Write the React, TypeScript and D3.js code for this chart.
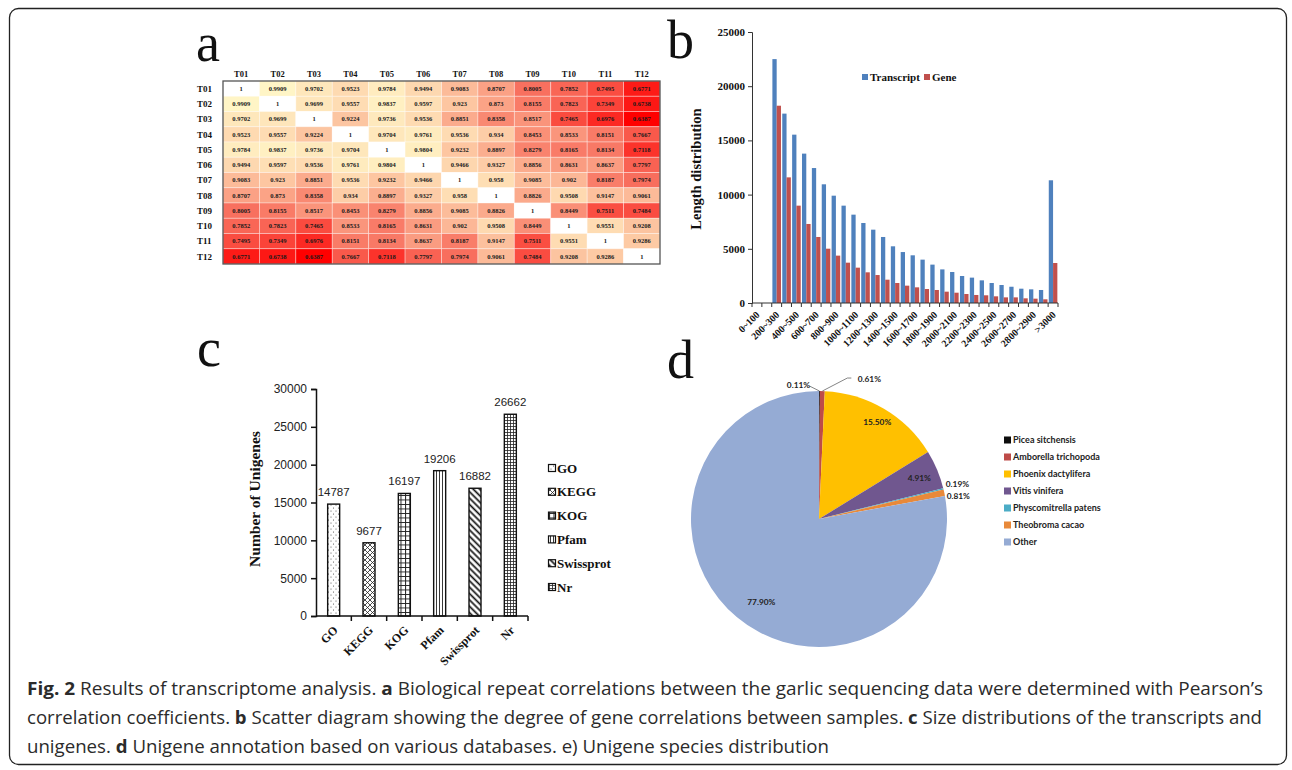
import * as d3 from 'd3';
import { useEffect, useRef } from 'react';

// panel a: Pearson correlation matrix
const samples = ['T01', 'T02', 'T03', 'T04', 'T05', 'T06', 'T07', 'T08', 'T09', 'T10', 'T11', 'T12'];
const corrRows = [
  [1, 0.9909, 0.9702, 0.9523, 0.9784, 0.9494, 0.9083, 0.8707, 0.8005, 0.7852, 0.7495, 0.6771],
  [0.9909, 1, 0.9699, 0.9557, 0.9837, 0.9597, 0.923, 0.873, 0.8155, 0.7823, 0.7349, 0.6738],
  [0.9702, 0.9699, 1, 0.9224, 0.9736, 0.9536, 0.8851, 0.8358, 0.8517, 0.7465, 0.6976, 0.6387],
  [0.9523, 0.9557, 0.9224, 1, 0.9704, 0.9761, 0.9536, 0.934, 0.8453, 0.8533, 0.8151, 0.7667],
  [0.9784, 0.9837, 0.9736, 0.9704, 1, 0.9804, 0.9232, 0.8897, 0.8279, 0.8165, 0.8134, 0.7118],
  [0.9494, 0.9597, 0.9536, 0.9761, 0.9804, 1, 0.9466, 0.9327, 0.8856, 0.8631, 0.8637, 0.7797],
  [0.9083, 0.923, 0.8851, 0.9536, 0.9232, 0.9466, 1, 0.958, 0.9085, 0.902, 0.8187, 0.7974],
  [0.8707, 0.873, 0.8358, 0.934, 0.8897, 0.9327, 0.958, 1, 0.8826, 0.9508, 0.9147, 0.9061],
  [0.8005, 0.8155, 0.8517, 0.8453, 0.8279, 0.8856, 0.9085, 0.8826, 1, 0.8449, 0.7511, 0.7484],
  [0.7852, 0.7823, 0.7465, 0.8533, 0.8165, 0.8631, 0.902, 0.9508, 0.8449, 1, 0.9551, 0.9208],
  [0.7495, 0.7349, 0.6976, 0.8151, 0.8134, 0.8637, 0.8187, 0.9147, 0.7511, 0.9551, 1, 0.9286],
  [0.6771, 0.6738, 0.6387, 0.7667, 0.7118, 0.7797, 0.7974, 0.9061, 0.7484, 0.9208, 0.9286, 1],
];

// panel b: length distribution
const lengthBins = [
  '0~100', '100~200', '200~300', '300~400', '400~500', '500~600', '600~700', '700~800',
  '800~900', '900~1000', '1000~1100', '1100~1200', '1200~1300', '1300~1400', '1400~1500',
  '1500~1600', '1600~1700', '1700~1800', '1800~1900', '1900~2000', '2000~2100', '2100~2200',
  '2200~2300', '2300~2400', '2400~2500', '2500~2600', '2600~2700', '2700~2800', '2800~2900',
  '2900~3000', '>3000',
];
const transcriptCounts = [0, 0, 22500, 17470, 15530, 13780, 12450, 10950, 9900, 8980, 8150, 7380,
  6765, 6090, 5230, 4700, 4400, 4000, 3540, 3100, 2860, 2490, 2340, 2090, 1845, 1660, 1500, 1320,
  1260, 1200, 11320];
const geneCounts = [0, 0, 18200, 11590, 8980, 7290, 6090, 5010, 4370, 3720, 3260, 2830, 2580, 2150,
  1845, 1600, 1445, 1290, 1200, 1045, 950, 830, 740, 710, 615, 520, 520, 430, 400, 340, 3690];
const lengthTicks = [0, 5000, 10000, 15000, 20000, 25000];

// panel c: annotation databases
const dbNames = ['GO', 'KEGG', 'KOG', 'Pfam', 'Swissprot', 'Nr'];
const unigeneCounts = [14787, 9677, 16197, 19206, 16882, 26662];
const unigeneTicks = [0, 5000, 10000, 15000, 20000, 25000, 30000];

// panel d: species distribution
const speciesNames = ['Picea sitchensis', 'Amborella trichopoda', 'Phoenix dactylifera', 'Vitis vinifera',
  'Physcomitrella patens', 'Theobroma cacao', 'Other'];
const speciesPercent = [0.11, 0.61, 15.5, 4.91, 0.19, 0.81, 77.9];
const speciesLabels = ['0.11%', '0.61%', '15.50%', '4.91%', '0.19%', '0.81%', '77.90%'];

const SERIF = '"Liberation Serif", "Times New Roman", serif';
const SANS = '"Liberation Sans", Arial, sans-serif';

const App = () => {
  const svgRef = useRef<SVGSVGElement>(null);

  useEffect(() => {
    const svg = d3.select(svgRef.current);
    svg.selectAll('*').remove();

    svg.append('rect').attr('width', 1292).attr('height', 770).attr('fill', '#fff');
    // outer frame
    svg.append('rect')
      .attr('x', 9.5).attr('y', 8.5).attr('width', 1277).attr('height', 756).attr('rx', 9)
      .attr('fill', 'none').attr('stroke', '#222').attr('stroke-width', 1.3);

    // panel letters
    const letters = [['a', 196, 61], ['b', 667, 58], ['c', 197, 366], ['d', 667, 378]];
    letters.forEach(([t, x, y]) => {
      svg.append('text').attr('x', x).attr('y', y).text(t as string)
        .attr('font-family', SERIF).attr('font-size', 54).attr('fill', '#111');
    });

    const defs = svg.append('defs');

    // ---------------- panel a ----------------
    const hx = d3.scaleBand().domain(samples).range([223, 660]);
    const hy = d3.scaleBand().domain(samples).range([81, 264]);
    const heatColor = d3.scaleLinear<string>()
      .domain([0.6387, 0.8, 0.9909])
      .range(['#ff0000', '#f8705f', '#fff5c6']);

    const ga = svg.append('g');
    corrRows.forEach((row, ri) => {
      row.forEach((v, ci) => {
        ga.append('rect')
          .attr('x', hx(samples[ci])!).attr('y', hy(samples[ri])!)
          .attr('width', hx.bandwidth()).attr('height', hy.bandwidth())
          .attr('fill', v === 1 ? '#ffffff' : heatColor(v))
          .attr('stroke', '#ffffff').attr('stroke-opacity', 0.45).attr('stroke-width', 0.8);
        ga.append('text')
          .attr('x', hx(samples[ci])! + hx.bandwidth() / 2)
          .attr('y', hy(samples[ri])! + hy.bandwidth() / 2)
          .attr('dy', '0.35em').attr('text-anchor', 'middle')
          .attr('font-family', SERIF).attr('font-weight', 'bold').attr('font-size', 6.5)
          .attr('fill', '#1a1a1a')
          .text(String(v));
      });
    });
    ga.append('rect').attr('x', 223).attr('y', 81).attr('width', 437).attr('height', 183)
      .attr('fill', 'none').attr('stroke', '#555').attr('stroke-width', 1.3);
    samples.forEach(s => {
      ga.append('text').attr('x', hx(s)! + hx.bandwidth() / 2).attr('y', 74).attr('dy', '0.35em')
        .attr('text-anchor', 'middle').attr('font-family', SERIF).attr('font-weight', 'bold')
        .attr('font-size', 8.5).attr('fill', '#111').text(s);
      ga.append('text').attr('x', 197).attr('y', hy(s)! + hy.bandwidth() / 2).attr('dy', '0.35em')
        .attr('font-family', SERIF).attr('font-weight', 'bold')
        .attr('font-size', 9).attr('fill', '#111').text(s);
    });

    // ---------------- panel b ----------------
    const gb = svg.append('g');
    const xb = d3.scaleBand().domain(lengthBins).range([752, 1058]);
    const xbInner = d3.scaleBand().domain(['t', 'g']).range([0, xb.bandwidth()]).paddingOuter(0.15);
    const yb = d3.scaleLinear().domain([0, 25000]).range([303, 32]);

    lengthBins.forEach((b, i) => {
      gb.append('rect').attr('x', xb(b)! + xbInner('t')!).attr('width', xbInner.bandwidth())
        .attr('y', yb(transcriptCounts[i])).attr('height', yb(0) - yb(transcriptCounts[i]))
        .attr('fill', '#4f81bd');
      gb.append('rect').attr('x', xb(b)! + xbInner('g')!).attr('width', xbInner.bandwidth())
        .attr('y', yb(geneCounts[i])).attr('height', yb(0) - yb(geneCounts[i]))
        .attr('fill', '#c0504d');
    });

    const yAxisB = gb.append('g').attr('transform', 'translate(752,0)')
      .call(d3.axisLeft(yb).tickValues(lengthTicks).tickSize(4).tickPadding(3).tickFormat(d3.format('d')));
    yAxisB.attr('font-family', SERIF).attr('font-size', 11).attr('font-weight', 'bold');
    yAxisB.selectAll('path, line').attr('stroke', '#333');
    yAxisB.selectAll('text').attr('fill', '#111');

    gb.append('line').attr('x1', 752).attr('x2', 1058).attr('y1', 303).attr('y2', 303)
      .attr('stroke', '#333');
    lengthBins.concat(['end']).forEach((b, i) => {
      const x = i < lengthBins.length ? xb(b)! : 1058;
      gb.append('line').attr('x1', x).attr('x2', x).attr('y1', 303).attr('y2', 307).attr('stroke', '#333');
    });
    lengthBins.forEach((b, i) => {
      if (i % 2 !== 0) return;
      const cx = xb(b)! + xb.bandwidth() / 2;
      gb.append('text').attr('transform', `translate(${cx + 1},${313}) rotate(-45)`)
        .attr('dy', '0.35em').attr('text-anchor', 'end')
        .attr('font-family', SERIF).attr('font-weight', 'bold').attr('font-size', 10).attr('fill', '#111')
        .text(b);
    });
    gb.append('text').attr('transform', 'translate(696,169) rotate(-90)').attr('dy', '0.35em')
      .attr('text-anchor', 'middle').attr('font-family', SERIF).attr('font-weight', 'bold')
      .attr('font-size', 14.5).attr('fill', '#111').text('Length distribution');

    // legend b
    const legB = [['Transcript', '#4f81bd', 862], ['Gene', '#c0504d', 924]];
    legB.forEach(([t, c, x]) => {
      gb.append('rect').attr('x', x as number).attr('y', 74).attr('width', 6).attr('height', 6).attr('fill', c as string);
      gb.append('text').attr('x', (x as number) + 8).attr('y', 77).attr('dy', '0.35em')
        .attr('font-family', SERIF).attr('font-weight', 'bold').attr('font-size', 11).attr('fill', '#111')
        .text(t as string);
    });

    // ---------------- panel c ----------------
    const mkPattern = (id: string, w: number, h: number, draw: (p: d3.Selection<SVGPatternElement, unknown, null, undefined>) => void, transform?: string) => {
      const p = defs.append('pattern').attr('id', id).attr('patternUnits', 'userSpaceOnUse')
        .attr('width', w).attr('height', h);
      if (transform) p.attr('patternTransform', transform);
      p.append('rect').attr('width', w).attr('height', h).attr('fill', '#fff');
      draw(p as any);
    };
    mkPattern('pGO', 5, 6, p => {
      p.append('circle').attr('cx', 1).attr('cy', 1).attr('r', 0.55).attr('fill', '#444');
      p.append('circle').attr('cx', 3.5).attr('cy', 4).attr('r', 0.55).attr('fill', '#444');
    });
    mkPattern('pKEGG', 5, 5, p => {
      p.append('path').attr('d', 'M0,0 L5,5 M5,0 L0,5').attr('stroke', '#222').attr('stroke-width', 0.8);
    });
    mkPattern('pKOG', 4.5, 4.5, p => {
      p.append('path').attr('d', 'M0,0.5 H4.5 M0.5,0 V4.5').attr('stroke', '#222').attr('stroke-width', 1);
    });
    mkPattern('pPfam', 3, 3, p => {
      p.append('path').attr('d', 'M1.5,0 V3').attr('stroke', '#222').attr('stroke-width', 0.9);
    });
    mkPattern('pSwiss', 4.5, 4.5, p => {
      p.append('path').attr('d', 'M2.25,0 V4.5').attr('stroke', '#111').attr('stroke-width', 1.7);
    }, 'rotate(-45)');
    mkPattern('pNr', 3, 3, p => {
      p.append('path').attr('d', 'M0,0.5 H3 M0.5,0 V3').attr('stroke', '#222').attr('stroke-width', 0.8);
    });
    const patIds = ['pGO', 'pKEGG', 'pKOG', 'pPfam', 'pSwiss', 'pNr'];

    const gc = svg.append('g');
    const xc = d3.scaleBand().domain(dbNames).range([316, 528]);
    const yc = d3.scaleLinear().domain([0, 30000]).range([616, 389]);
    const barW = 12;
    dbNames.forEach((n, i) => {
      const cx = xc(n)! + xc.bandwidth() / 2;
      gc.append('rect').attr('x', cx - barW / 2).attr('width', barW)
        .attr('y', yc(unigeneCounts[i])).attr('height', yc(0) - yc(unigeneCounts[i]))
        .attr('fill', `url(#${patIds[i]})`).attr('stroke', '#111').attr('stroke-width', 1.4);
      gc.append('text').attr('x', cx).attr('y', yc(unigeneCounts[i]) - 8)
        .attr('text-anchor', 'middle').attr('font-family', SANS).attr('font-size', 11.5).attr('fill', '#222')
        .text(String(unigeneCounts[i]));
      gc.append('text').attr('transform', `translate(${cx + 2},${628}) rotate(-45)`)
        .attr('dy', '0.35em').attr('text-anchor', 'end')
        .attr('font-family', SERIF).attr('font-weight', 'bold').attr('font-size', 12).attr('fill', '#111')
        .text(n);
    });
    const yAxisC = gc.append('g').attr('transform', 'translate(316,0)')
      .call(d3.axisLeft(yc).tickValues(unigeneTicks).tickSize(5).tickPadding(4).tickFormat(d3.format('d')));
    yAxisC.attr('font-family', SANS).attr('font-size', 12);
    yAxisC.selectAll('path, line').attr('stroke', '#111').attr('stroke-width', 1.5);
    yAxisC.selectAll('text').attr('fill', '#222');
    gc.append('line').attr('x1', 316).attr('x2', 528).attr('y1', 616).attr('y2', 616)
      .attr('stroke', '#111').attr('stroke-width', 1.5);
    dbNames.forEach((n, i) => {
      const x = xc(n)! + xc.bandwidth();
      if (i === dbNames.length - 1) {
        gc.append('line').attr('x1', x).attr('x2', x).attr('y1', 616).attr('y2', 621).attr('stroke', '#111').attr('stroke-width', 1.5);
      } else {
        gc.append('line').attr('x1', x).attr('x2', x).attr('y1', 616).attr('y2', 621).attr('stroke', '#111').attr('stroke-width', 1.5);
      }
    });
    gc.append('text').attr('transform', 'translate(255,499) rotate(-90)').attr('dy', '0.35em')
      .attr('text-anchor', 'middle').attr('font-family', SERIF).attr('font-weight', 'bold')
      .attr('font-size', 15.5).attr('fill', '#111').text('Number of  Unigenes');
    // legend c
    dbNames.forEach((n, i) => {
      const y = 468 + i * 23.8;
      gc.append('rect').attr('x', 548.5).attr('y', y - 3.5).attr('width', 7).attr('height', 7)
        .attr('fill', `url(#${patIds[i]})`).attr('stroke', '#111').attr('stroke-width', 1.2);
      gc.append('text').attr('x', 557).attr('y', y).attr('dy', '0.35em')
        .attr('font-family', SERIF).attr('font-weight', 'bold').attr('font-size', 13).attr('fill', '#111')
        .text(n);
    });

    // ---------------- panel d ----------------
    const gd = svg.append('g').attr('transform', 'translate(819,519)');
    const pieColors = ['#0d0d0d', '#be4b48', '#ffc000', '#70578f', '#4bacc6', '#e8893a', '#95abd4'];
    const R = 128;
    const arcs = d3.pie<number>().sort(null).value(d => d)(speciesPercent);
    const arc = d3.arc<d3.PieArcDatum<number>>().innerRadius(0).outerRadius(R);
    const labelArc = d3.arc<d3.PieArcDatum<number>>().innerRadius(R * 0.85).outerRadius(R * 0.85);
    const edgeArc = d3.arc<d3.PieArcDatum<number>>().innerRadius(R).outerRadius(R);
    gd.selectAll('path.slice').data(arcs).enter().append('path')
      .attr('d', arc).attr('fill', (_, i) => pieColors[i]);

    const outside = [0, 1, 4, 5];
    const outerOffset: Record<number, [number, number]> = { 0: [-21, -6], 1: [47, -12], 4: [14, -5], 5: [14, 3] };
    const innerOffset: Record<number, [number, number]> = { 2: [3, -3], 3: [0, 1], 6: [12, 0] };
    arcs.forEach((a, i) => {
      let x: number, y: number;
      if (outside.includes(i)) {
        const [ex, ey] = edgeArc.centroid(a);
        x = ex + outerOffset[i][0];
        y = ey + outerOffset[i][1];
        if (i === 0) {
          gd.append('path').attr('d', `M${ex},${ey} L${x + 11},${y + 1}`)
            .attr('fill', 'none').attr('stroke', '#666').attr('stroke-width', 0.8);
        }
        if (i === 1) {
          gd.append('path').attr('d', `M${ex},${ey} L${x - 22},${y - 1} L${x - 18},${y - 1}`)
            .attr('fill', 'none').attr('stroke', '#666').attr('stroke-width', 0.8);
        }
      } else {
        const [cx, cy] = labelArc.centroid(a);
        x = cx + innerOffset[i][0];
        y = cy + innerOffset[i][1];
      }
      gd.append('text').attr('x', x).attr('y', y).attr('dy', '0.35em').attr('text-anchor', 'middle')
        .attr('font-family', 'Lato, "Open Sans", sans-serif').attr('font-weight', 'bold')
        .attr('font-size', 8.3).attr('fill', '#222').text(speciesLabels[i]);
    });

    // legend d
    speciesNames.forEach((n, i) => {
      const y = 440 + i * 17;
      svg.append('rect').attr('x', 1004).attr('y', y - 3.5).attr('width', 7).attr('height', 7).attr('fill', pieColors[i]);
      svg.append('text').attr('x', 1013).attr('y', y).attr('dy', '0.35em')
        .attr('font-family', 'Lato, "Open Sans", sans-serif').attr('font-weight', 'bold')
        .attr('font-size', 9).attr('fill', '#222').text(n);
    });

    // ---------------- caption ----------------
    const capLines: [string, boolean][][] = [
      [['Fig. 2', true], [' Results of transcriptome analysis. ', false], ['a', true],
        [' Biological repeat correlations between the garlic sequencing data were determined with Pearson’s', false]],
      [['correlation coefficients. ', false], ['b', true],
        [' Scatter diagram showing the degree of gene correlations between samples. ', false], ['c', true],
        [' Size distributions of the transcripts and', false]],
      [['unigenes. ', false], ['d', true],
        [' Unigene annotation based on various databases. e) Unigene species distribution', false]],
    ];
    const capWidths = [1236, 1235, 802];
    capLines.forEach((parts, li) => {
      const t = svg.append('text').attr('x', 27).attr('y', 695 + li * 29)
        .attr('font-family', '"Open Sans", sans-serif').attr('font-size', 18).attr('fill', '#2b2b2b')
        .attr('textLength', capWidths[li]).attr('lengthAdjust', 'spacingAndGlyphs')
        .attr('xml:space', 'preserve');
      parts.forEach(([s, b]) => {
        t.append('tspan').attr('font-weight', b ? 'bold' : 'normal').text(s);
      });
    });
  }, []);

  return (
    <svg ref={svgRef} width={1292} height={770} style={{ position: 'absolute', left: 0, top: 0 }}></svg>
  );
};

export default App;
